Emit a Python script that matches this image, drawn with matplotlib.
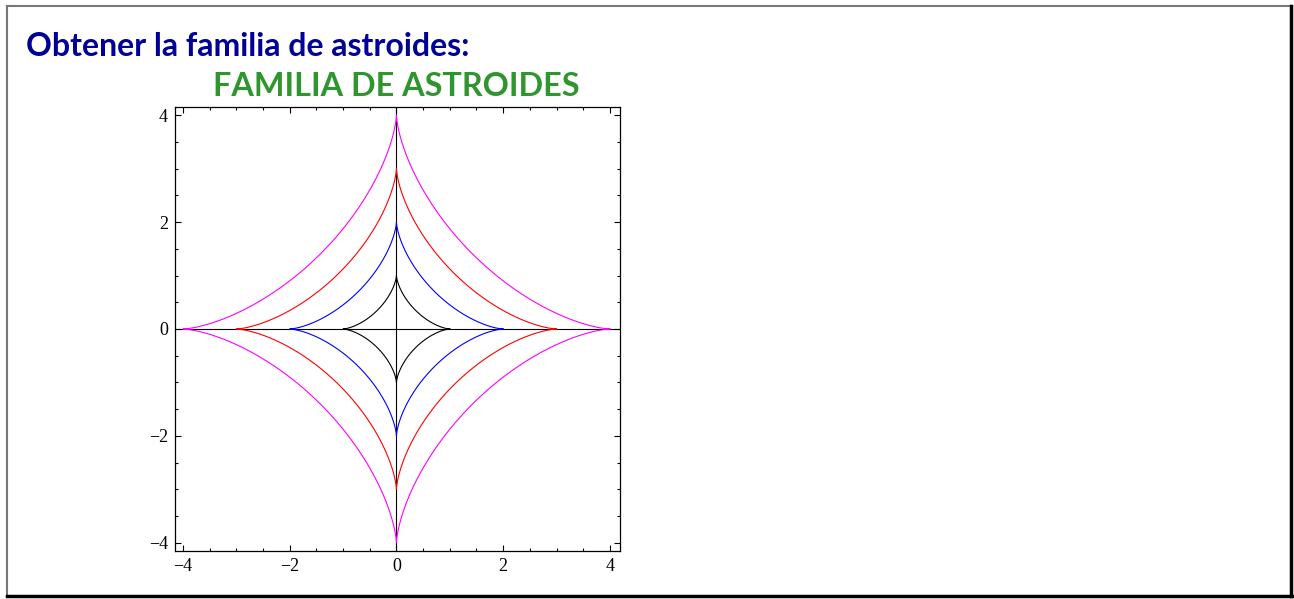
import numpy as np
import matplotlib.pyplot as plt
from matplotlib.ticker import MultipleLocator
from matplotlib.lines import Line2D

# astroid family x = a cos^3 t, y = a sin^3 t
radios = [1, 2, 3, 4]
colores = ["black", "blue", "red", "magenta"]
ticks_mayores = [-4, -2, 0, 2, 4]
titulo = "Obtener la familia de astroides:"
titulo_graf = "FAMILIA DE ASTROIDES"

W, H = 1294, 599
fig = plt.figure(figsize=(W / 100, H / 100), dpi=100)

# frame with shadow
fig.add_artist(Line2D([7 / W, 7 / W], [1 - 6 / H, 1 - 596 / H], color="#777777", lw=1.5))
fig.add_artist(Line2D([7 / W, 1291 / W], [1 - 6 / H, 1 - 6 / H], color="#777777", lw=1.5))
fig.add_artist(Line2D([1291 / W, 1291 / W], [1 - 6 / H, 1 - 596 / H], color="black", lw=2.5))
fig.add_artist(Line2D([7 / W, 1292 / W], [1 - 596 / H, 1 - 596 / H], color="black", lw=2.5))

fig.text(26 / W, 1 - 56 / H, titulo, fontsize=23, fontweight="bold",
         family="Lato", color="#000099", va="baseline", ha="left")
fig.text(213 / W, 1 - 96 / H, titulo_graf, fontsize=23.3, fontweight="bold",
         family="Lato", color="#2E952F", va="baseline", ha="left")

ax = fig.add_axes([175 / W, 1 - 551 / H, 445 / W, 444 / H])
t = np.linspace(0, 2 * np.pi, 800)
ax.axhline(0, color="black", lw=0.8, zorder=1)
ax.axvline(0, color="black", lw=0.8, zorder=1)
for a, c in zip(radios, colores):
    ax.plot(a * np.cos(t) ** 3, a * np.sin(t) ** 3, color=c, lw=0.8, zorder=2)

ax.set_xlim(-4.15, 4.19)
ax.set_ylim(-4.15, 4.15)
ax.set_xticks(ticks_mayores)
ax.set_yticks(ticks_mayores)
ax.xaxis.set_minor_locator(MultipleLocator(0.5))
ax.yaxis.set_minor_locator(MultipleLocator(0.5))
ax.tick_params(which="both", direction="in", top=True, right=True, width=0.8)
ax.tick_params(which="major", length=4.5, pad=5, labelsize=13)
ax.tick_params(which="minor", length=2.2)
for lab in ax.get_xticklabels() + ax.get_yticklabels():
    lab.set_family("Liberation Serif")
for s in ax.spines.values():
    s.set_linewidth(0.9)

plt.savefig("out.png", dpi=100)
